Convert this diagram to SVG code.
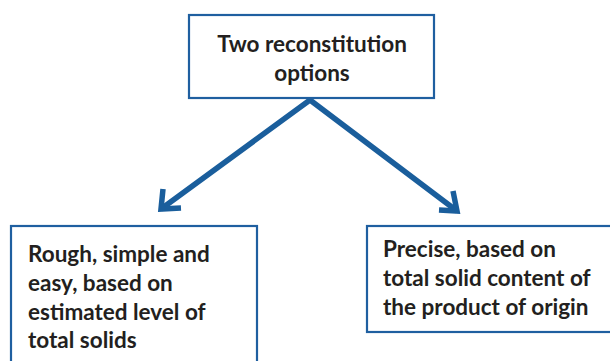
<svg xmlns="http://www.w3.org/2000/svg" width="610" height="361" viewBox="0 0 610 361">
  <style>
    .box { fill: #ffffff; stroke: #1f5fa0; stroke-width: 2.2; }
    .lbl { font-family: Lato, "Open Sans", "Liberation Sans", sans-serif; font-weight: 700; font-size: 22.5px; fill: #231f20; }
    .conn { fill: none; stroke: #1a5e9c; stroke-width: 5.5; stroke-linecap: butt; stroke-linejoin: miter; }
  </style>
  <rect width="610" height="361" fill="#ffffff"/>
  <g id="connectors">
    <polyline class="conn" points="161,209 310,100 457,211"/>
    <polyline class="conn" points="163,189 161,209 181,208"/>
    <polyline class="conn" points="453,191 457,211 439,210"/>
  </g>
  <g id="node-top">
    <rect class="box" x="189" y="15" width="245" height="83"/>
    <text class="lbl" x="312" y="52" text-anchor="middle">Two reconstitution</text>
    <text class="lbl" x="312" y="81" text-anchor="middle">options</text>
  </g>
  <g id="node-left">
    <rect class="box" x="11" y="226" width="246" height="140"/>
    <text class="lbl" x="28" y="262">Rough, simple and</text>
    <text class="lbl" x="28" y="291">easy, based on</text>
    <text class="lbl" x="28" y="320">estimated level of</text>
    <text class="lbl" x="28" y="348">total solids</text>
  </g>
  <g id="node-right">
    <rect class="box" x="367" y="226" width="250" height="106"/>
    <text class="lbl" x="383" y="257">Precise, based on</text>
    <text class="lbl" x="383" y="286">total solid content of</text>
    <text class="lbl" x="383" y="315">the product of origin</text>
  </g>
</svg>
